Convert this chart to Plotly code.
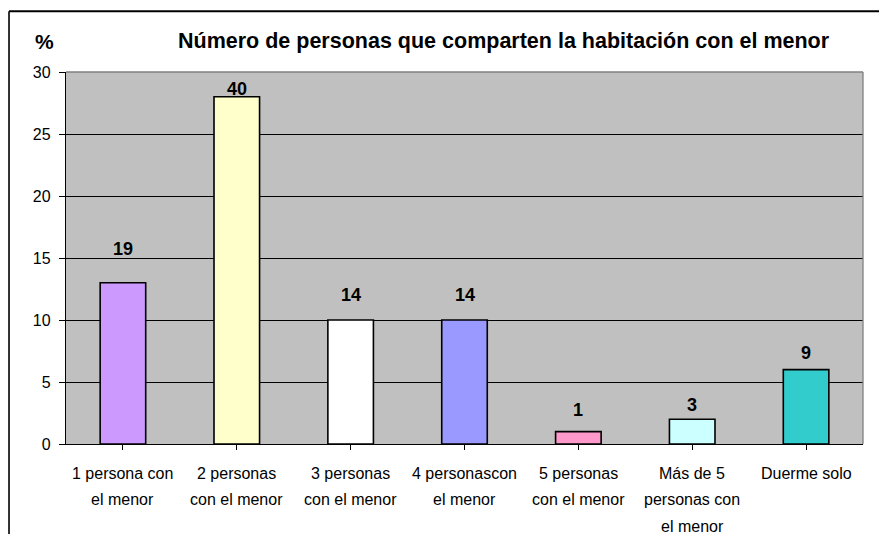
import plotly.graph_objects as go

categories = [
    "1 persona con<br>el menor",
    "2 personas<br>con el menor",
    "3 personas<br>con el menor",
    "4 personascon<br>el menor",
    "5 personas<br>con el menor",
    "Más de 5<br>personas con<br>el menor",
    "Duerme solo",
]
percent = [13, 28, 10, 10, 1, 2, 6]
counts = [19, 40, 14, 14, 1, 3, 9]
colors = ["#CC99FF", "#FFFFCC", "#FFFFFF", "#9999FF", "#FF99CC", "#CCFFFF", "#33CCCC"]
label_gap = [22, -4, 13, 13, 10, 2, 5]

FONT = "Liberation Sans, Arial, sans-serif"

# page body has an 8px margin: figure sits at (8, 8)
W, H = 871, 526

fig = go.Figure()
fig.add_trace(go.Bar(
    x=list(range(len(categories))),
    y=percent,
    marker=dict(color=colors, line=dict(color="#000000", width=1.6)),
    width=0.4,
    hoverinfo="skip",
))

annotations = []
for i, (v, c, g) in enumerate(zip(percent, counts, label_gap)):
    annotations.append(dict(
        x=i, y=v, xref="x", yref="y", text=f"<b>{c}</b>", showarrow=False,
        yanchor="bottom", yshift=g, font=dict(family=FONT, size=18, color="#000000"),
    ))
for i, cat in enumerate(categories):
    for j, line in enumerate(cat.split("<br>")):
        annotations.append(dict(
            x=i, y=0, xref="x", yref="paper", text=line, showarrow=False,
            yanchor="middle", yshift=-(29 + 26.5 * j),
            font=dict(family=FONT, size=16, color="#000000"),
        ))
annotations.append(dict(
    x=-0.012, y=1.083, xref="paper", yref="paper", text="<b>%</b>", showarrow=False,
    xanchor="right", yanchor="middle", font=dict(family=FONT, size=21, color="#000000"),
))
annotations.append(dict(
    x=0.549, y=1.083, xref="paper", yref="paper",
    text="<b>Número de personas que comparten la habitación con el menor</b>",
    showarrow=False, xanchor="center", yanchor="middle",
    font=dict(family=FONT, size=21.5, color="#000000"),
))

frame_left, frame_top = -0.0715, 1.163
fig.update_layout(
    width=W, height=H,
    margin=dict(l=58, r=16, t=64, b=90),
    paper_bgcolor="#FFFFFF",
    plot_bgcolor="#C0C0C0",
    showlegend=False,
    annotations=annotations,
    font=dict(family=FONT, size=16, color="#000000"),
    shapes=[
        dict(type="line", xref="paper", yref="paper", x0=frame_left, x1=1.05, y0=frame_top, y1=frame_top,
             line=dict(color="#000000", width=2)),
        dict(type="line", xref="paper", yref="paper", x0=frame_left, x1=frame_left, y0=frame_top, y1=-0.5,
             line=dict(color="#000000", width=1.6)),
        dict(type="line", xref="paper", yref="paper", x0=0, x1=1, y0=1, y1=1,
             line=dict(color="#808080", width=1.3)),
        dict(type="line", xref="paper", yref="paper", x0=1, x1=1, y0=0, y1=1,
             line=dict(color="#808080", width=1.3)),
    ],
)
fig.update_xaxes(
    range=[-0.5, len(categories) - 0.5],
    tickmode="array", tickvals=list(range(len(categories))),
    ticktext=[""] * len(categories),
    tickson="boundaries", ticks="outside", ticklen=5, tickcolor="#000000",
    showline=True, linecolor="#000000", linewidth=1.3,
    showgrid=False, zeroline=False, fixedrange=True,
)
fig.update_yaxes(
    range=[0, 30], dtick=5, tick0=0,
    ticks="outside", ticklen=6, tickcolor="#000000",
    ticklabelstandoff=5,
    tickfont=dict(family=FONT, size=16, color="#000000"),
    showline=True, linecolor="#000000", linewidth=1.3,
    showgrid=True, gridcolor="#000000", gridwidth=1,
    zeroline=False, fixedrange=True,
)

fig.write_html("out.html")
